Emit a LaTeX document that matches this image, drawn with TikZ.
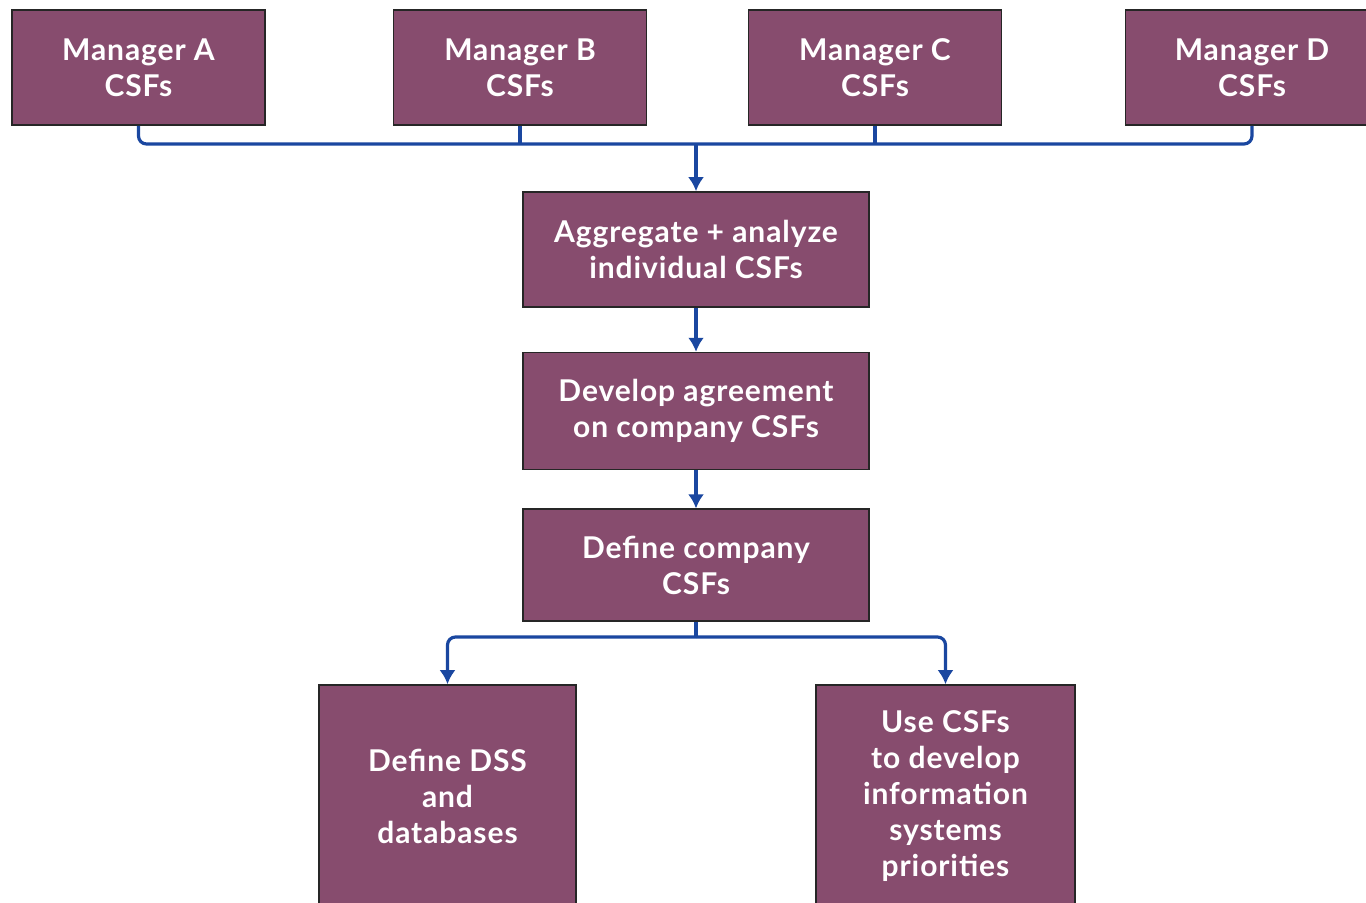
\documentclass[tikz,border=0pt]{standalone}
\usepackage{fontspec}
\setmainfont{Lato}[LetterSpace=3]
\usepackage{tikz}
\usetikzlibrary{shapes,arrows,positioning}
\usetikzlibrary{arrows.meta}
\definecolor{csfpurple}{HTML}{874C6E}
\definecolor{csfblue}{HTML}{1A47A0}
\tikzset{%
      >={Latex[width=8pt,length=7pt]},
}
\tikzstyle{block} = [rectangle, draw=black!85, line width=0.8pt, fill=csfpurple,
    text=white, text centered, align=center, minimum height=57.5pt]
\tikzstyle{manager} = [block, minimum width=126.5pt]
\tikzstyle{stepbox} = [block, minimum width=173pt]
\tikzstyle{result} = [block, minimum height=111pt]
\tikzstyle{line} = [draw, csfblue, line width=1.6pt, rounded corners=4pt]

\begin{document}
\begin{tikzpicture}[x=0.5pt, y=-0.5pt, node distance=2.2cm,
    every node/.style={font=\bfseries\fontsize{15}{18}\selectfont}]
        \useasboundingbox (0,0) rectangle (1366,903);

        \node[manager] (mA) at (138.5,67.5) {Manager A\\CSFs};
        \node[manager] (mB) at (520,67.5) {Manager B\\CSFs};
        \node[manager] (mC) at (875,67.5) {Manager C\\CSFs};
        \node[manager] (mD) at (1252,67.5) {Manager D\\CSFs};

        \node[stepbox] (agg) at (696,249.5) {Aggregate + analyze\\individual CSFs};
        \node[stepbox, below=22pt of agg, minimum height=58.5pt] (agree) {Develop agreement\\on company CSFs};
        \node[stepbox, below=19pt of agree, minimum height=56pt] (define) {Define company\\CSFs};

        \node[result, minimum width=128.5pt] (dss) at (447.5,796) {Define DSS\\and\\databases};
        \node[result, minimum width=129.5pt] (use) at (945.5,796) {Use CSFs\\to develop\\information\\systems\\priorities};

        \coordinate (bus) at (696,144);
        \coordinate (split) at (696,637);

        \path [line] (mA.south) |- (bus) -| (mD.south);
        \path [line] (mB.south) -- (mB.south |- bus);
        \path [line] (mC.south) -- (mC.south |- bus);
        \path [line, ->] (bus) -- (agg);
        \path [line, ->] (agg) -- (agree);
        \path [line, ->] (agree) -- (define);
        \path [line] (define) -- (split);
        \path [line, ->] (split) -| (dss);
        \path [line, ->] (split) -| (use);
    \end{tikzpicture}
\end{document}
